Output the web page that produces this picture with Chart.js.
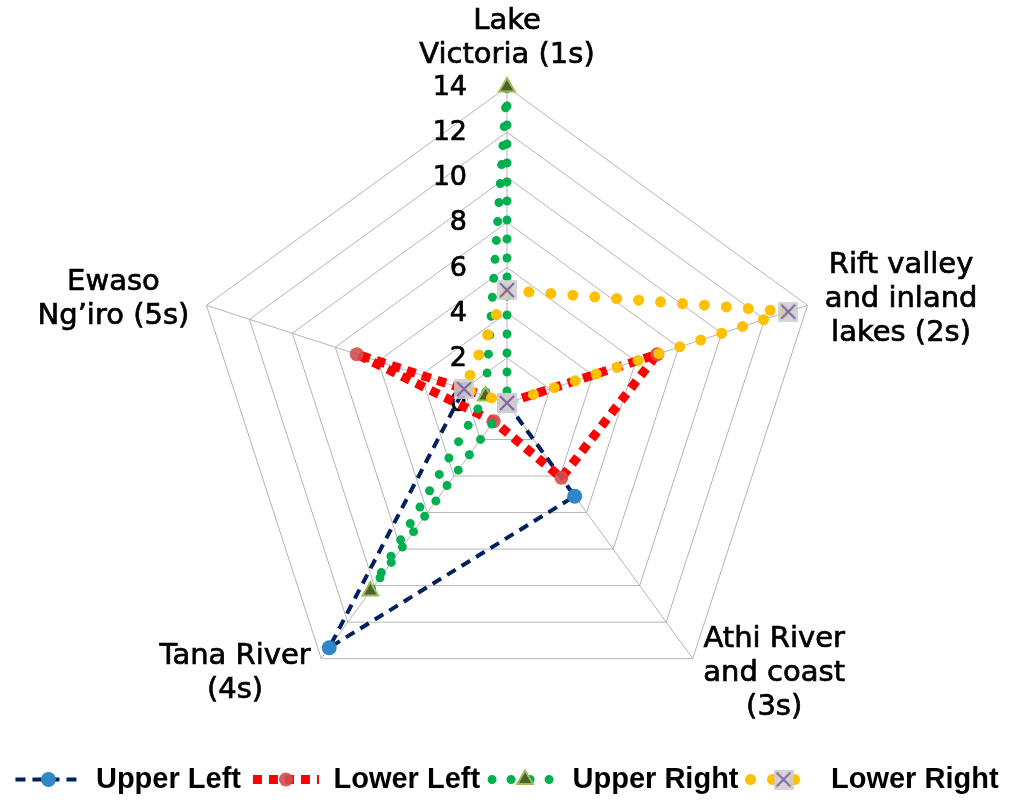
<!DOCTYPE html>
<html>
<head>
<meta charset="utf-8">
<script src="https://cdn.jsdelivr.net/npm/chart.js@4.4.1/dist/chart.umd.min.js"></script>
<style>
  html, body { margin: 0; padding: 0; background: #fff; }
</style>
</head>
<body>
<canvas id="chart" width="1024" height="806"></canvas>
<script>
// Spokes of the radar, split into the lines they are printed on.
const regions = [
  ["Lake", "Victoria (1s)"],
  ["Rift valley", "and inland", "lakes (2s)"],
  ["Athi River", "and coast", "(3s)"],
  ["Tana River", "(4s)"],
  ["Ewaso", "Ng’iro (5s)"],
];

const upperLeft = [0, 0, 5.1, 13.4, 2];
const lowerLeft = [0, 7, 4.1, 1, 7];
const upperRight = [14, 0, 0, 10.3, 1];
const lowerRight = [5, 13.1, 0, 0, 2];

const seriesNames = ["Upper Left", "Lower Left", "Upper Right", "Lower Right"];

const scaleMin = 0;
const scaleMax = 14;
const scaleStep = 2;

const LABEL_FONT = '29px "DejaVu Sans"';
const TICK_FONT = '27px "DejaVu Sans"';
const SAMPLE_WIDTH = 66;

// Excel style marker: purple cross on a light grey square.
function crossBox() {
  const c = document.createElement("canvas");
  c.width = c.height = 20;
  const g = c.getContext("2d");
  g.fillStyle = "rgba(205, 205, 210, 0.85)";
  g.fillRect(0, 0, 20, 20);
  g.strokeStyle = "#8064a2";
  g.lineWidth = 2;
  g.beginPath();
  g.moveTo(3, 3); g.lineTo(17, 17);
  g.moveTo(17, 3); g.lineTo(3, 17);
  g.stroke();
  return c;
}

const datasets = [
  {
    label: seriesNames[0], data: upperLeft, order: 4,
    borderColor: "#002060", borderWidth: 4, borderDash: [10, 7], borderCapStyle: "butt",
    pointStyle: "circle", pointRadius: 7.5, pointBorderWidth: 0,
    pointBackgroundColor: "#2f86c8", pointBorderColor: "#2f86c8",
  },
  {
    label: seriesNames[1], data: lowerLeft, order: 3,
    borderColor: "#ff0000", borderWidth: 9, borderDash: [9, 7], borderCapStyle: "butt",
    pointStyle: "circle", pointRadius: 7, pointBorderWidth: 0,
    pointBackgroundColor: "rgba(214, 76, 76, 0.9)", pointBorderColor: "rgba(214, 76, 76, 0.9)",
  },
  {
    label: seriesNames[2], data: upperRight, order: 2,
    borderColor: "#00b050", borderWidth: 9, borderDash: [0, 19], borderCapStyle: "round",
    pointStyle: "triangle", pointRadius: 9, pointBorderWidth: 2,
    pointBackgroundColor: "#4f6228", pointBorderColor: "#9bbb59",
  },
  {
    label: seriesNames[3], data: lowerRight, order: 1,
    borderColor: "#ffc000", borderWidth: 11, borderDash: [0, 22], borderCapStyle: "round",
    pointStyle: crossBox(), pointRadius: 10, pointBorderWidth: 0,
    pointBackgroundColor: "#8064a2", pointBorderColor: "#8064a2",
  },
].map(d => ({ ...d, fill: false, backgroundColor: "transparent", tension: 0 }));

function drawMarker(ctx, ds, x, y) {
  const r = ds.pointRadius;
  ctx.save();
  ctx.fillStyle = ds.pointBackgroundColor;
  ctx.strokeStyle = ds.pointBorderColor;
  ctx.lineWidth = ds.pointBorderWidth;
  ctx.setLineDash([]);
  if (ds.pointStyle instanceof HTMLCanvasElement) {
    ctx.drawImage(ds.pointStyle, x - ds.pointStyle.width / 2, y - ds.pointStyle.height / 2);
  } else {
    ctx.beginPath();
    if (ds.pointStyle === "triangle") {
      ctx.moveTo(x, y - r);
      ctx.lineTo(x + r * 0.866, y + r * 0.5);
      ctx.lineTo(x - r * 0.866, y + r * 0.5);
      ctx.closePath();
    } else {
      ctx.arc(x, y, r, 0, Math.PI * 2);
    }
    ctx.fill();
    if (ds.pointBorderWidth > 0) ctx.stroke();
  }
  ctx.restore();
}

// slightly heavier text, the original is a chunky rendering
function heavyText(ctx, text, x, y) {
  ctx.fillText(text, x, y);
  ctx.strokeText(text, x, y);
}

// Tick numbers sit left of the top spoke, right aligned.
const tickText = {
  id: "tickText",
  beforeDatasetsDraw(chart) {
    const s = chart.scales.r, ctx = chart.ctx;
    ctx.save();
    ctx.font = TICK_FONT;
    ctx.fillStyle = "#000";
    ctx.strokeStyle = "#000";
    ctx.lineWidth = 0.7;
    ctx.textAlign = "right";
    ctx.textBaseline = "middle";
    for (const t of s.ticks) {
      const d = s.getDistanceFromCenterForValue(t.value);
      heavyText(ctx, t.label, s.xCenter - 40, s.yCenter - d + 1);
    }
    ctx.restore();
  },
};

// Spoke names, centred lines, block placed just outside each spoke end.
const spokeText = {
  id: "spokeText",
  afterDraw(chart) {
    const s = chart.scales.r, ctx = chart.ctx;
    const lineH = 34;
    ctx.save();
    ctx.font = LABEL_FONT;
    ctx.fillStyle = "#000";
    ctx.strokeStyle = "#000";
    ctx.lineWidth = 0.7;
    ctx.textAlign = "center";
    ctx.textBaseline = "middle";
    chart.data.labels.forEach((lines, i) => {
      const p = s.getPointPosition(i, s.drawingArea + 18);
      const deg = (s.getIndexAngle(i) * 180 / Math.PI) % 360;
      const w = Math.max(...lines.map(l => ctx.measureText(l).width));
      const h = lines.length * lineH;
      let cx, top;
      if (deg < 1 || deg > 359) {
        cx = p.x; top = p.y - h + 3;
      } else if (deg < 180) {
        cx = p.x + w / 2; top = p.y - h / 2;
      } else {
        cx = p.x - w / 2; top = p.y - h / 2;
      }
      lines.forEach((l, k) => heavyText(ctx, l, cx, top + lineH * (k + 0.5)));
    });
    ctx.restore();
  },
};

// Put a marker in the middle of each legend line sample.
const legendMarkers = {
  id: "legendMarkers",
  afterDraw(chart) {
    const lg = chart.legend;
    if (!lg || !lg.legendHitBoxes) return;
    const half = lg.options.labels.font.size / 2;
    lg.legendItems.forEach((item, i) => {
      const hb = lg.legendHitBoxes[i];
      const ds = chart.data.datasets[item.datasetIndex];
      drawMarker(chart.ctx, ds, hb.left + SAMPLE_WIDTH / 2, hb.top + half);
    });
  },
};

new Chart(document.getElementById("chart"), {
  type: "radar",
  data: { labels: regions, datasets },
  options: {
    responsive: false,
    animation: false,
    devicePixelRatio: 1,
    layout: { padding: { left: 0, right: 10, top: 87, bottom: 2 } },
    scales: {
      r: {
        min: scaleMin,
        max: scaleMax,
        ticks: { display: false, stepSize: scaleStep },
        pointLabels: { display: false },
        grid: { circular: false, color: "#b4b4b4", lineWidth: 1 },
        angleLines: { color: "#b4b4b4", lineWidth: 1 },
      },
    },
    plugins: {
      tooltip: { enabled: false },
      legend: {
        position: "bottom",
        // empty title only opens a gap between the radar and the legend row
        title: { display: true, text: " ", font: { size: 10 }, padding: { top: 0, bottom: 21 } },
        labels: {
          usePointStyle: true,
          pointStyleWidth: SAMPLE_WIDTH,
          padding: 12,
          color: "#000",
          font: { family: "Liberation Sans", size: 29, weight: "bold" },
          generateLabels: (chart) => chart.data.datasets.map((ds, i) => ({
            text: ds.label,
            datasetIndex: i,
            fontColor: "#000",
            strokeStyle: ds.borderColor,
            fillStyle: ds.borderColor,
            lineWidth: ds.borderWidth,
            lineDash: ds.borderDash,
            lineCap: ds.borderCapStyle,
            pointStyle: "line",
            hidden: false,
          })),
        },
      },
    },
  },
  plugins: [tickText, spokeText, legendMarkers],
});
</script>
</body>
</html>
